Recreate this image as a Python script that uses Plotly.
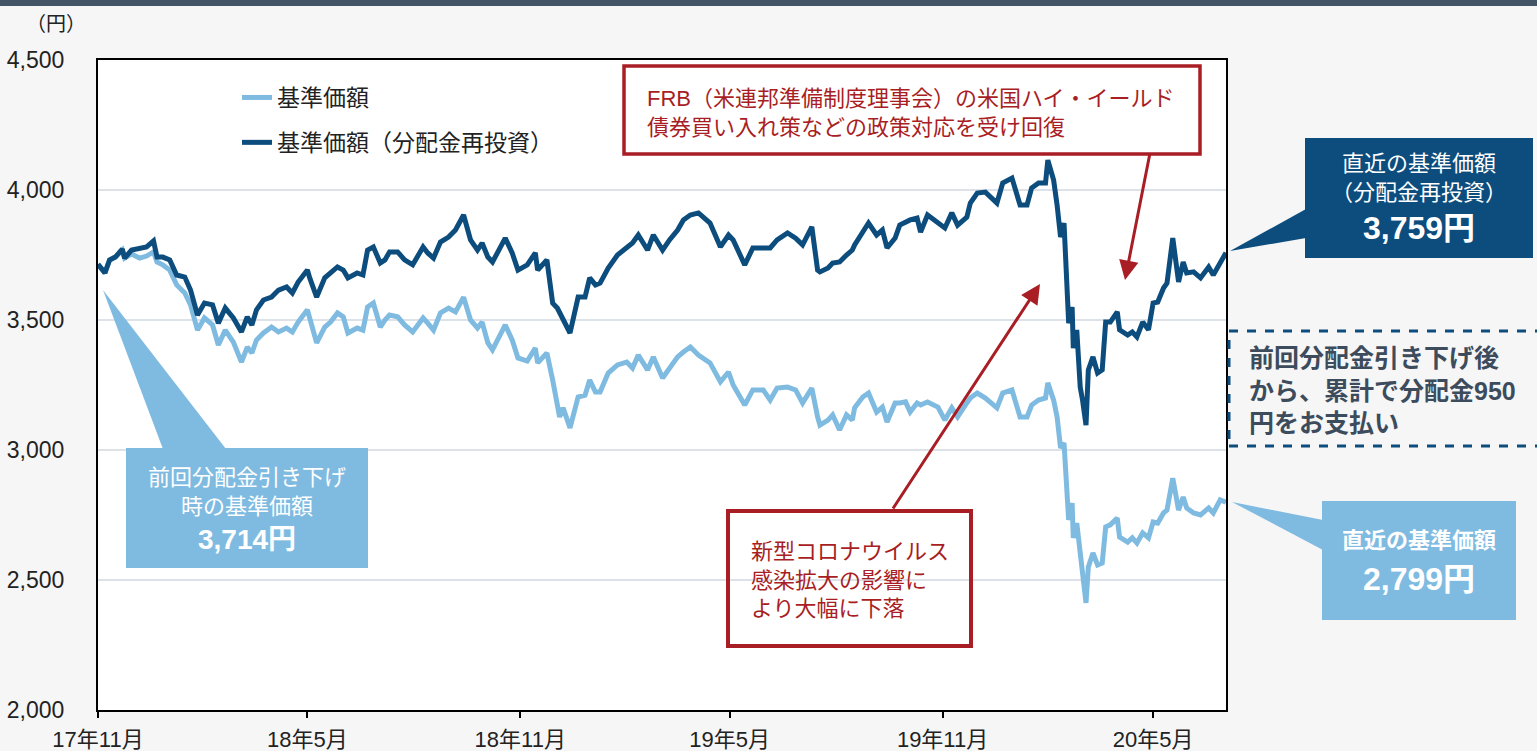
import plotly.graph_objects as go

# ---------------- data ----------------
dates = [
    "2017-11-01", "2017-11-07", "2017-11-11", "2017-11-16", "2017-11-22", "2017-11-24", "2017-11-30",
    "2017-12-07", "2017-12-13", "2017-12-19", "2017-12-22", "2017-12-27",
    "2018-01-02", "2018-01-08", "2018-01-15", "2018-01-20", "2018-01-26",
    "2018-02-01", "2018-02-08", "2018-02-13", "2018-02-19", "2018-02-26",
    "2018-03-05", "2018-03-10", "2018-03-14", "2018-03-18", "2018-03-24", "2018-03-31",
    "2018-04-06", "2018-04-13", "2018-04-18", "2018-04-23",
    "2018-05-01", "2018-05-03", "2018-05-09", "2018-05-16", "2018-05-21", "2018-05-27",
    "2018-06-01", "2018-06-05", "2018-06-13", "2018-06-18", "2018-06-22", "2018-06-27",
    "2018-07-03", "2018-07-07", "2018-07-11", "2018-07-18", "2018-07-24", "2018-07-31",
    "2018-08-09", "2018-08-13", "2018-08-18", "2018-08-24", "2018-08-31",
    "2018-09-06", "2018-09-13", "2018-09-19", "2018-09-25", "2018-09-29",
    "2018-10-04", "2018-10-08", "2018-10-19", "2018-10-25", "2018-10-30",
    "2018-11-07", "2018-11-14", "2018-11-16", "2018-11-24", "2018-11-29",
    "2018-12-03", "2018-12-05", "2018-12-08", "2018-12-14", "2018-12-21", "2018-12-27", "2018-12-31",
    "2019-01-05", "2019-01-09", "2019-01-16", "2019-01-24",
    "2019-02-01", "2019-02-06", "2019-02-11", "2019-02-19", "2019-02-24",
    "2019-03-04", "2019-03-10", "2019-03-17", "2019-03-22", "2019-03-28",
    "2019-04-04", "2019-04-14", "2019-04-23", "2019-04-30",
    "2019-05-04", "2019-05-14", "2019-05-21", "2019-05-30",
    "2019-06-05", "2019-06-11", "2019-06-20", "2019-06-27",
    "2019-07-03", "2019-07-11", "2019-07-16", "2019-07-18", "2019-07-25", "2019-07-29",
    "2019-08-04", "2019-08-10", "2019-08-15", "2019-08-17", "2019-08-24", "2019-08-29",
    "2019-09-05", "2019-09-10", "2019-09-14", "2019-09-21", "2019-09-25", "2019-09-30",
    "2019-10-04", "2019-10-10", "2019-10-13", "2019-10-19", "2019-10-28",
    "2019-11-03", "2019-11-09", "2019-11-14", "2019-11-22", "2019-11-25",
    "2019-12-01", "2019-12-08", "2019-12-18", "2019-12-23", "2019-12-31",
    "2020-01-03", "2020-01-07", "2020-01-13", "2020-01-17", "2020-01-23", "2020-01-29", "2020-01-31",
    "2020-02-05", "2020-02-08", "2020-02-11", "2020-02-14", "2020-02-18", "2020-02-21", "2020-02-22",
    "2020-02-25", "2020-02-28",
    "2020-03-01", "2020-03-04", "2020-03-06", "2020-03-10", "2020-03-14", "2020-03-18", "2020-03-21",
    "2020-03-25", "2020-03-31",
    "2020-04-02", "2020-04-09", "2020-04-13", "2020-04-17", "2020-04-22", "2020-04-27",
    "2020-05-01", "2020-05-05", "2020-05-10", "2020-05-13", "2020-05-16", "2020-05-18", "2020-05-23",
    "2020-05-27", "2020-05-30",
    "2020-06-05", "2020-06-11", "2020-06-18", "2020-06-22", "2020-06-28",
    "2020-07-03",
]

# 基準価額（分配金再投資）
nav_reinvested = [
    3714, 3681, 3731, 3742, 3773, 3738, 3769,
    3777, 3781, 3804, 3742, 3742,
    3731, 3673, 3665, 3615, 3519,
    3565, 3558, 3488, 3546, 3508,
    3454, 3512, 3481, 3539, 3577, 3588,
    3615, 3627, 3604, 3646,
    3692, 3662, 3588, 3662, 3681, 3704,
    3692, 3662, 3681, 3673, 3769, 3781,
    3719, 3731, 3762, 3762, 3731, 3712,
    3781, 3758, 3738, 3800, 3819,
    3846, 3904, 3808, 3769, 3796,
    3742, 3723, 3815, 3758, 3692,
    3712, 3758, 3692, 3731, 3565,
    3546, 3527, 3508, 3450, 3588, 3588, 3662,
    3635, 3642, 3700, 3750,
    3777, 3796, 3827, 3769, 3827,
    3769, 3808, 3846, 3885, 3904,
    3912, 3873, 3781, 3827,
    3808, 3712, 3777, 3777,
    3777, 3808, 3835, 3815,
    3789, 3858, 3692, 3685, 3700, 3719,
    3723, 3750, 3769, 3789, 3838, 3873,
    3827, 3846, 3777, 3815, 3865, 3877,
    3885, 3892, 3838, 3904, 3877,
    3854, 3912, 3865, 3896, 3950,
    3988, 3992, 3950, 4027, 4046,
    4000, 3942, 3942, 4008, 4027, 4027, 4115,
    4038, 3942, 3819, 3873, 3488, 3550, 3392, 3462, 3242,
    3192, 3096, 3308, 3358, 3296, 3308, 3492, 3492, 3531,
    3462, 3442, 3454, 3435, 3492, 3462,
    3565, 3569, 3623, 3642, 3758, 3815, 3646, 3723, 3681,
    3685, 3662, 3704, 3673, 3719,
    3759,
]

# 基準価額
nav = [
    3714, 3681, 3731, 3742, 3769, 3738, 3754,
    3738, 3746, 3762, 3723, 3712,
    3692, 3635, 3604, 3558, 3461,
    3508, 3481, 3404, 3461, 3415,
    3338, 3396, 3373, 3423, 3450, 3473,
    3454, 3469, 3454, 3492,
    3539, 3508, 3412, 3473, 3492, 3527,
    3512, 3450, 3469, 3461, 3550, 3565,
    3473, 3500, 3519, 3512, 3481, 3454,
    3508, 3488, 3461, 3527, 3546,
    3531, 3588, 3500, 3469, 3492,
    3412, 3385, 3481, 3423, 3354,
    3342, 3392, 3335, 3373, 3269,
    3181, 3127, 3162, 3085, 3204, 3211, 3269,
    3223, 3223, 3296, 3327,
    3338, 3315, 3365, 3308, 3358,
    3277, 3315, 3358, 3377, 3396,
    3365, 3335, 3262, 3300,
    3250, 3173, 3231, 3231,
    3192, 3238, 3242, 3231,
    3181, 3238, 3127, 3096, 3115, 3135,
    3077, 3135, 3115, 3162, 3204, 3219,
    3146, 3165, 3108, 3181, 3181, 3185,
    3146, 3181, 3173, 3185, 3165,
    3115, 3162, 3127, 3181, 3200,
    3219, 3200, 3162, 3219, 3231,
    3185, 3127, 3127, 3173, 3192, 3200, 3258,
    3192, 3127, 3008, 3027, 2731, 2796, 2662, 2719, 2596,
    2539, 2412, 2550, 2604, 2558, 2565, 2704, 2712, 2738,
    2665, 2646, 2662, 2642, 2681, 2662,
    2723, 2719, 2758, 2769, 2835, 2892, 2769, 2819, 2777,
    2758, 2750, 2777, 2758, 2808,
    2799,
]

tick_vals = ["2017-11-01", "2018-05-01", "2018-11-01", "2019-05-01", "2019-11-01", "2020-05-01"]
tick_text = ["17年11月", "18年5月", "18年11月", "19年5月", "19年11月", "20年5月"]
series_names = ["基準価額", "基準価額（分配金再投資）"]

# ---------------- style ----------------
LIGHT = "#7fbbe1"
DARK = "#0c4d7e"
RED = "#a81e24"
GREY_TXT = "#3d4c5c"
FONT = "Liberation Sans, Arial, Noto Sans CJK JP, sans-serif"

W_FIG, H_FIG = 1537, 751
L, R, T, B = 98, 1226, 60, 710


def fx(p):
    return (p - L) / (R - L)


def fy(p):
    return (B - p) / (B - T)


fig = go.Figure()
fig.add_trace(go.Scatter(x=dates, y=nav, mode="lines", name=series_names[0],
                         legendgroup="a", line=dict(color=LIGHT, width=5)))
fig.add_trace(go.Scatter(x=dates, y=nav_reinvested, mode="lines", name=series_names[1],
                         legendgroup="b", line=dict(color=DARK, width=5)))

shapes = []
# top band
shapes.append(dict(type="rect", xref="paper", yref="paper", x0=fx(-5), x1=fx(W_FIG + 5),
                   y0=fy(6), y1=fy(-5), fillcolor="#435467", line=dict(width=0), layer="above"))


def poly(points, color):
    d = "M " + " L ".join(f"{fx(a):.5f},{fy(b):.5f}" for a, b in points) + " Z"
    return dict(type="path", path=d, xref="paper", yref="paper", fillcolor=color,
                line=dict(width=0), layer="above")


def box(x0, y0, x1, y1, fill=None, lc=None, lw=0, dash="solid"):
    return dict(type="rect", xref="paper", yref="paper", x0=fx(x0), x1=fx(x1), y0=fy(y1), y1=fy(y0),
                fillcolor=fill if fill else "rgba(0,0,0,0)",
                line=dict(color=lc if lc else "rgba(0,0,0,0)", width=lw, dash=dash), layer="above")


# left callout
shapes.append(poly([(103, 290), (163, 449), (226, 449)], LIGHT))
shapes.append(box(126, 448, 368, 568, fill=LIGHT))
# dark callout (top right)
shapes.append(poly([(1230, 251), (1306, 209), (1306, 238)], DARK))
shapes.append(box(1305, 138, 1533, 258, fill=DARK))
# light callout (bottom right)
shapes.append(poly([(1232, 502), (1323, 520), (1323, 550)], LIGHT))
shapes.append(box(1322, 501, 1516, 620, fill=LIGHT))
# dashed box
shapes.append(box(1229, 331, 1545, 446, lc=DARK, lw=3, dash="dash"))
# red boxes
shapes.append(box(624, 66, 1200, 154, lc=RED, lw=3.5))
shapes.append(box(728, 511, 971, 646, lc=RED, lw=4))

ann = []


def text(x, y, s, size, color, bold=False, xanchor="center", align="center"):
    if bold:
        s = "<b>" + s + "</b>"
    ann.append(dict(x=fx(x), y=fy(y), xref="paper", yref="paper", text=s, showarrow=False,
                    xanchor=xanchor, yanchor="middle", align=align,
                    font=dict(family=FONT, size=size, color=color)))


text(56, 24, "（円）", 20, "#222222")
text(247, 492, "前回分配金引き下げ<br>時の基準価額", 22, "white")
text(247, 539, "3,714円", 28, "white", bold=True)
text(1419, 178, "直近の基準価額<br>（分配金再投資）", 22, "white")
text(1419, 228, "3,759円", 32, "white", bold=True)
text(1419, 540, "直近の基準価額", 22, "white", bold=True)
text(1419, 579, "2,799円", 32, "white", bold=True)
text(1247, 390, "前回分配金引き下げ後<br>から、累計で分配金950<br>円をお支払い", 25, GREY_TXT,
     bold=True, xanchor="left", align="left")
text(645, 113, "FRB（米連邦準備制度理事会）の米国ハイ・イールド<br>債券買い入れ策などの政策対応を受け回復",
     22, RED, xanchor="left", align="left")
text(749, 580, "新型コロナウイルス<br>感染拡大の影響に<br>より大幅に下落", 22, RED,
     xanchor="left", align="left")

# arrows
for head, tail in [((1125, 280), (1150, 153)), ((1040, 284), (892, 510))]:
    ann.append(dict(x=fx(head[0]), y=fy(head[1]), xref="paper", yref="paper", text="",
                    showarrow=True, ax=tail[0] - head[0], ay=tail[1] - head[1],
                    arrowcolor=RED, arrowwidth=3, arrowhead=2, arrowsize=1.3, standoff=0))

fig.update_layout(
    width=W_FIG, height=H_FIG, autosize=False,
    margin=dict(l=L, r=W_FIG - R, t=T, b=H_FIG - B, pad=0),
    paper_bgcolor="#f6f6f6", plot_bgcolor="white",
    font=dict(family=FONT, color="#222222"),
    showlegend=True,
    legend=dict(x=fx(237), y=fy(76), xanchor="left", yanchor="top",
                bgcolor="rgba(0,0,0,0)", font=dict(family=FONT, size=23, color="#222222"),
                tracegroupgap=12, itemwidth=30),
    shapes=shapes, annotations=ann,
    xaxis=dict(type="date", range=["2017-11-01", "2020-07-03"], tickvals=tick_vals,
               ticktext=tick_text, ticks="outside", ticklen=6, tickwidth=1.5, tickcolor="black",
               showgrid=False, showline=True, linecolor="black", linewidth=2, mirror=True,
               tickfont=dict(family=FONT, size=22, color="#222222"), ticklabelstandoff=3,
               zeroline=False, automargin=False),
    yaxis=dict(range=[2000, 4500], dtick=500, tick0=2000, tickformat=",", showgrid=True,
               gridcolor="#dde2e8", gridwidth=2, showline=True, linecolor="black", linewidth=2,
               mirror=True, ticks="", ticklabelstandoff=27, automargin=False,
               tickfont=dict(family=FONT, size=23, color="#222222"), zeroline=False),
)

fig.write_html("out.html", config={"displayModeBar": False},
               post_script="document.body.style.margin='0px';document.body.style.overflow='hidden';")
